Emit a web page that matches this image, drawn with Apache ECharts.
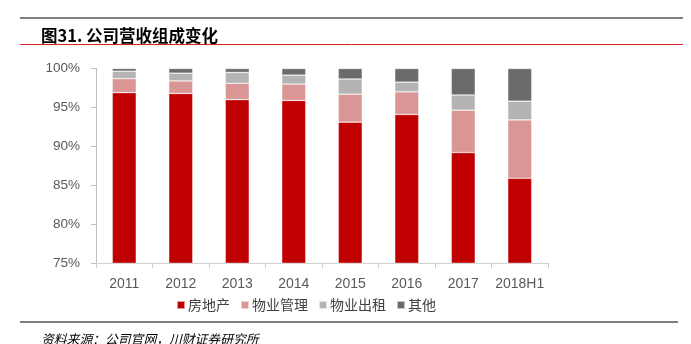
<!DOCTYPE html>
<html><head><meta charset="utf-8">
<script src="https://cdn.jsdelivr.net/npm/echarts@6/dist/echarts.min.js"></script>
<style>html,body{margin:0;padding:0;background:#fff}#c{width:691px;height:344px}</style>
</head><body><div id="c"></div>
<script>
const categories = ['2011','2012','2013','2014','2015','2016','2017','2018H1'];
const realEstate = [96.9, 96.8, 96.0, 95.9, 93.1, 94.1, 89.2, 85.9];
const propertyMgmt = [1.8, 1.6, 2.1, 2.1, 3.6, 2.9, 5.45, 7.5];
const rental = [0.95, 1.0, 1.4, 1.15, 1.95, 1.25, 1.95, 2.4];
const other = [0.35, 0.6, 0.5, 0.85, 1.35, 1.75, 3.4, 4.2];
const seriesNames = ['房地产','物业管理','物业出租','其他'];
const yTicks = [75, 80, 85, 90, 95, 100];

const colors = ['#C00000','#D99694','#B4B4B4','#6B6B6B'];
const chart = echarts.init(document.getElementById('c'), null, {renderer:'canvas'});
const values = [realEstate, propertyMgmt, rental, other];
chart.setOption({
  animation:false,
  textStyle:{fontFamily:'"Liberation Sans", Arial, sans-serif'},
  title:[
    {text:'图31. 公司营收组成变化', left:36, top:22, textStyle:{fontFamily:'"Noto Sans CJK SC"', fontSize:16.5, fontWeight:'bold', color:'#000'}},
    {text:'资料来源：公司官网，川财证券研究所', left:36, top:328, textStyle:{fontFamily:'"Noto Sans CJK SC"', fontSize:12.8, fontStyle:'italic', fontWeight:'normal', color:'#000'}}
  ],
  graphic:[
    {type:'line', shape:{x1:20,y1:18,x2:683,y2:18}, style:{stroke:'#808080', lineWidth:2}},
    {type:'line', shape:{x1:20,y1:44.5,x2:683,y2:44.5}, style:{stroke:'#E02020', lineWidth:1}},
    {type:'line', shape:{x1:20,y1:322,x2:678,y2:322}, style:{stroke:'#555', lineWidth:1.5}}
  ],
  legend:{
    data:seriesNames, left:171, top:293, itemWidth:8, itemHeight:8, itemGap:10,
    icon:'rect',
    textStyle:{fontFamily:'"Noto Sans CJK SC"', fontSize:14, color:'#404040', padding:[0,0,0,-2]}
  },
  grid:{left:96, right:143, top:68.5, bottom:81, containLabel:false},
  xAxis:{
    type:'category', data:categories,
    axisLine:{lineStyle:{color:'#D0D0D0'}},
    axisTick:{show:true, length:5, lineStyle:{color:'#D0D0D0'}},
    axisLabel:{color:'#595959', fontSize:14, margin:14, interval:0}
  },
  yAxis:{
    type:'value', min:75, max:100, interval:5,
    axisLine:{show:true, lineStyle:{color:'#BFBFBF'}},
    axisTick:{show:true, length:5, lineStyle:{color:'#BFBFBF'}},
    splitLine:{show:false},
    axisLabel:{color:'#595959', fontSize:13.5, margin:16, formatter:v=>v+'%'}
  },
  series: seriesNames.map((n,i)=>({
    name:n, type:'bar', stack:'total', barWidth:24, data:values[i],
    itemStyle:{color:colors[i], borderColor:'rgba(255,255,255,0.6)', borderWidth:0.6}
  }))
});
</script></body></html>
